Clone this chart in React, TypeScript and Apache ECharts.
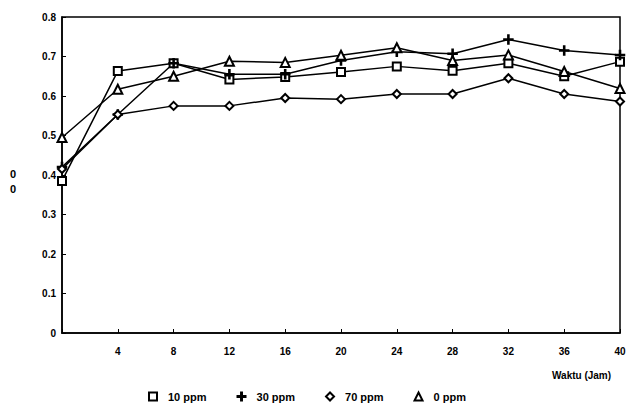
import React, { useEffect, useRef } from "react";
import * as echarts from "echarts";

const hours = [0, 4, 8, 12, 16, 20, 24, 28, 32, 36, 40];
const ppm10 = [0.385, 0.663, 0.683, 0.642, 0.648, 0.661, 0.675, 0.664, 0.683, 0.65, 0.687];
const ppm30 = [0.42, 0.553, 0.683, 0.655, 0.655, 0.69, 0.712, 0.707, 0.743, 0.715, 0.704];
const ppm70 = [0.415, 0.553, 0.575, 0.575, 0.595, 0.592, 0.605, 0.605, 0.645, 0.605, 0.586];
const ppm0 = [0.495, 0.617, 0.65, 0.688, 0.685, 0.703, 0.722, 0.69, 0.704, 0.662, 0.619];
const seriesNames = ["10 ppm", "30 ppm", "70 ppm", "0 ppm"];
const xTitle = "Waktu (Jam)";
const yTitle = "0\n0";

const PLUS =
  "path://M4.4,0 L5.6,0 L5.6,4.4 L10,4.4 L10,5.6 L5.6,5.6 L5.6,10 L4.4,10 L4.4,5.6 L0,5.6 L0,4.4 L4.4,4.4 Z";
const symbols = ["emptyRect", PLUS, "emptyDiamond", "emptyTriangle"];
const sizes = [8, 9, 8, 9];

export default function App() {
  const ref = useRef<HTMLDivElement>(null);
  useEffect(() => {
    if (!ref.current) return;
    const chart = echarts.init(ref.current, null, { renderer: "svg" });
    const font = "Liberation Sans";
    const all = [ppm10, ppm30, ppm70, ppm0];
    chart.setOption({
      animation: false,
      backgroundColor: "#ffffff",
      textStyle: { fontFamily: font },
      grid: {
        left: 62,
        right: 9,
        top: 17,
        bottom: 77,
        show: true,
        borderColor: "#000",
        borderWidth: 1.5,
      },
      legend: {
        bottom: 3,
        left: 143,
        itemWidth: 8,
        itemHeight: 8,
        itemGap: 30,
        textStyle: {
          fontSize: 11,
          fontWeight: "bold",
          color: "#000",
          fontFamily: font,
          padding: [0, 0, 0, 6],
        },
        data: seriesNames.map((n, i) => ({ name: n, icon: symbols[i] })),
      },
      xAxis: {
        type: "value",
        min: 0,
        max: 40,
        interval: 4,
        axisLine: { lineStyle: { color: "#000", width: 1.5 } },
        axisTick: { inside: true, length: 4, lineStyle: { color: "#000" } },
        splitLine: { show: false },
        axisLabel: {
          color: "#000",
          fontSize: 10,
          fontWeight: "bold",
          margin: 13,
          formatter: (v: number) => (v === 0 ? "" : String(v)),
        },
      },
      yAxis: {
        type: "value",
        min: 0,
        max: 0.8,
        interval: 0.1,
        axisLine: { show: true, lineStyle: { color: "#000", width: 1.5 } },
        axisTick: { show: true, inside: true, length: 4, lineStyle: { color: "#000" } },
        splitLine: { show: false },
        axisLabel: {
          color: "#000",
          fontSize: 10,
          fontWeight: "bold",
          margin: 6,
          formatter: (v: number) => (Math.abs(v) < 1e-9 ? "0" : v.toFixed(1)),
        },
      },
      graphic: [
        {
          type: "text",
          left: 552,
          top: 370,
          style: { text: xTitle, fontSize: 10, fontWeight: "bold", fill: "#000", fontFamily: font },
        },
        {
          type: "text",
          left: 10,
          top: 166,
          style: { text: yTitle, fontSize: 11, fontWeight: "bold", fill: "#000", fontFamily: font, lineHeight: 15 },
        },
      ],
      series: all.map((vals, i) => ({
        name: seriesNames[i],
        type: "line",
        data: hours.map((h, j) => [h, vals[j]]),
        symbol: symbols[i],
        symbolSize: sizes[i],
        showAllSymbol: true,
        lineStyle: { color: "#000", width: 1.5 },
        itemStyle: { color: "#000", borderColor: "#000", borderWidth: 1.5 },
      })),
    });
    return () => chart.dispose();
  }, []);
  return <div ref={ref} style={{ width: 629, height: 410, position: "absolute", left: 0, top: 0 }} />;
}
